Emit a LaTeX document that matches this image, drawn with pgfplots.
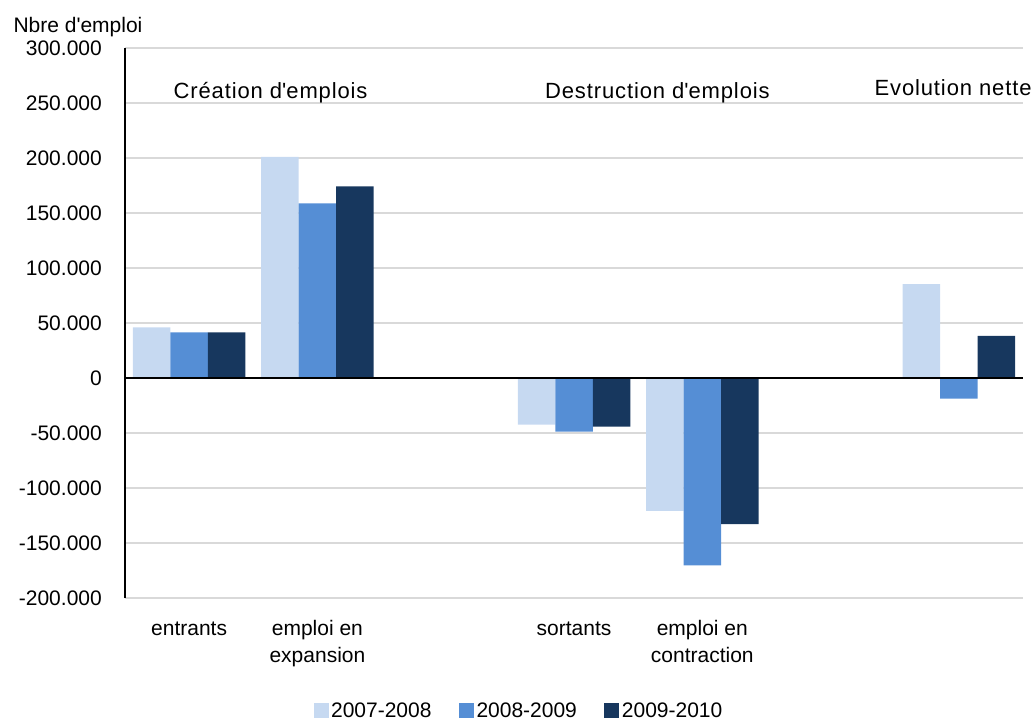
\documentclass[border=0pt]{standalone}
\usepackage{fontspec}
\setmainfont{Liberation Sans}
\newfontfamily\titlefont[LetterSpace=4]{Liberation Sans}
\usepackage{pgfplots}
\pgfplotsset{compat=1.18}
\definecolor{c1}{HTML}{C6D9F1}
\definecolor{c2}{HTML}{558ED5}
\definecolor{c3}{HTML}{17375E}
\definecolor{gridgray}{HTML}{D9D9D9}
\pgfplotsset{sq/.style={legend image code/.code={\fill[##1] (0bp,-7.5bp) rectangle (15bp,7.5bp);}}}

\begin{document}
\begin{tikzpicture}
\path[use as bounding box] (-125bp,-124bp) rectangle (910bp,598bp);
\begin{axis}[
    at={(0,0)}, anchor=south west,
    scale only axis, width=898bp, height=550bp,
    clip=false,
    ybar=0pt, bar width=37.5bp,
    xmin=-0.5, xmax=6.5,
    ymin=-200000, ymax=300000,
    scaled y ticks=false,
    axis x line=bottom, axis y line=left,
    x axis line style={draw=none},
    y axis line style={black, line width=2bp, -},
    major tick length=0pt,
    ymajorgrids, grid style={gridgray, line width=1.5bp},
    xtick={0,1,3,4},
    xticklabels={{\strut entrants},{\strut emploi en\\expansion},{\strut sortants},{\strut emploi en\\contraction}},
    ytick={-200000,-150000,...,300000},
    yticklabels={-200.000,-150.000,-100.000,-50.000,0,50.000,100.000,150.000,200.000,250.000,300.000},
    tick label style={font=\fontsize{21bp}{27bp}\selectfont},
    xticklabel style={align=center, anchor=north, inner sep=0pt, yshift=-18bp},
    yticklabel style={anchor=east, inner sep=0pt, xshift=-23bp},
    legend style={at={(0.439,-0.205)}, anchor=center, draw=none, fill=none,
        legend columns=3, font=\fontsize{21bp}{27bp}\selectfont,
        nodes={inner sep=2.5bp},
        /tikz/every even column/.append style={column sep=25bp}},
    ]
    \addplot[fill=c1, draw=none, sq] coordinates {(0,46000) (1,201000) (3,-42300) (4,-120900) (6,85400)};
    \addplot[fill=c2, draw=none, sq] coordinates {(0,41500) (1,158800) (3,-48700) (4,-170300) (6,-18800)};
    \addplot[fill=c3, draw=none, sq] coordinates {(0,41500) (1,174300) (3,-44100) (4,-132800) (6,38400)};
    \legend{2007-2008,2008-2009,2009-2010}
    % zero line
    \draw[black, line width=2.5bp] (axis cs:-0.5,0) -- (axis cs:6.5,0);
    % section titles
    \node[anchor=base, font=\titlefont\fontsize{22bp}{26bp}\selectfont] at (axis cs:0.635,253800) {Création d\textquotesingle emplois};
    \node[anchor=base, font=\titlefont\fontsize{22bp}{26bp}\selectfont] at (axis cs:3.65,253800) {Destruction d\textquotesingle emplois};
    \node[anchor=base, font=\titlefont\fontsize{22bp}{26bp}\selectfont] at (axis cs:5.955,257000) {Evolution nette};
    \node[anchor=base west, xshift=-115bp, yshift=16bp, font=\fontsize{21bp}{27bp}\selectfont] at (rel axis cs:0,1) {Nbre d\textquotesingle emploi};
\end{axis}
\end{tikzpicture}
\end{document}
